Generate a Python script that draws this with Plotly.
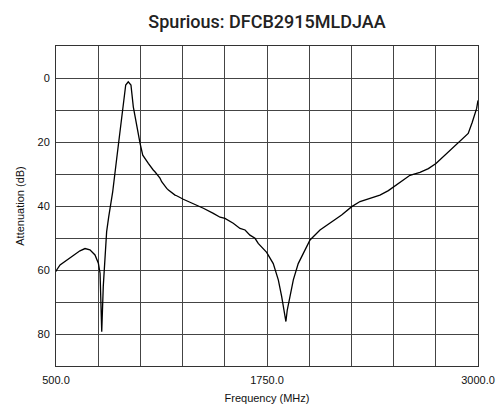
import plotly.graph_objects as go

freq_mhz = [500, 504, 524, 563, 602, 642, 672, 701, 731, 751, 761, 767, 771, 780, 790, 800,
            812, 836, 860, 883, 903, 913, 928, 944, 958, 978, 998, 1014, 1037, 1047, 1076,
            1086, 1116, 1126, 1156, 1166, 1205, 1215, 1254, 1313, 1373, 1432, 1472, 1501,
            1550, 1590, 1620, 1649, 1679, 1698, 1748, 1787, 1817, 1837, 1852, 1862, 1870,
            1886, 1906, 1935, 1975, 2005, 2064, 2133, 2192, 2252, 2301, 2360, 2419, 2469,
            2518, 2557, 2597, 2656, 2706, 2751, 2815, 2883, 2942, 2965, 2980, 2992, 3000]
atten_db = [60.5, 60.0, 58.4, 56.9, 55.6, 54.0, 53.3, 53.7, 55.3, 57.9, 61.0, 70.3, 79.3, 65.2,
            54.8, 48.0, 43.5, 35.5, 25.0, 14.5, 6.0, 2.2, 1.2, 2.2, 9.0, 15.2, 20.4, 24.1,
            26.1, 26.7, 28.75, 29.3, 31.3, 32.4, 34.5, 35.0, 36.6, 36.8, 37.9, 39.2, 40.7,
            42.3, 43.5, 43.9, 45.4, 47.0, 47.5, 49.1, 50.1, 51.7, 54.5, 58.0, 63.1, 68.3,
            72.5, 76.1, 72.5, 68.3, 63.1, 58.0, 53.75, 50.6, 47.5, 44.9, 42.8, 40.2, 38.6,
            37.6, 36.6, 35.2, 33.4, 31.7, 30.4, 29.5, 28.3, 26.7, 23.5, 20.4, 17.3, 14.0,
            11.5, 9.5, 7.0]

x_grid = [500, 750, 1000, 1250, 1500, 1750, 2000, 2250, 2500, 2750, 3000]
x_labels = ["500.0", "", "", "", "", "1750.0", "", "", "", "", "3000.0"]
y_grid = [0, 10, 20, 30, 40, 50, 60, 70, 80]
y_labels = ["0", "", "20", "", "40", "", "60", "", "80"]

font_family = "Liberation Sans, Arial, sans-serif"

fig = go.Figure()
fig.add_trace(go.Scatter(x=freq_mhz, y=atten_db, mode="lines",
                         line=dict(color="black", width=1.3), showlegend=False,
                         hoverinfo="skip"))

fig.update_layout(
    width=503, height=409,
    margin=dict(l=56, r=25, t=46, b=43, autoexpand=False),
    paper_bgcolor="white", plot_bgcolor="white",
    font=dict(family=font_family, size=11, color="#111"),
    title=dict(text="Spurious: DFCB2915MLDJAA", x=0.5, xref="paper", xanchor="center",
               y=1 - 22 / 409, yanchor="middle", automargin=False,
               font=dict(family="Roboto, sans-serif", size=18, weight=500, color="#222")),
)
fig.update_xaxes(range=[500, 3000], tickvals=x_grid, ticktext=x_labels,
                 showgrid=True, gridcolor="#444", gridwidth=1,
                 showline=True, linecolor="#333", linewidth=1, mirror=True,
                 ticks="", zeroline=False, automargin=False, ticklabelstandoff=4,
                 title=dict(text="Frequency (MHz)", standoff=9, font=dict(size=11)),
                 tickfont=dict(size=11))
fig.update_yaxes(range=[90, -10], tickvals=y_grid, ticktext=y_labels,
                 showgrid=True, gridcolor="#444", gridwidth=1,
                 showline=True, linecolor="#333", linewidth=1, mirror=True,
                 ticks="", zeroline=False, automargin=False, ticklabelstandoff=3,
                 title=dict(text="Attenuation (dB)", standoff=10, font=dict(size=11)),
                 tickfont=dict(size=11))

fig.write_html("out.html", config={"displayModeBar": False},
               post_script="document.body.style.margin='0';")
